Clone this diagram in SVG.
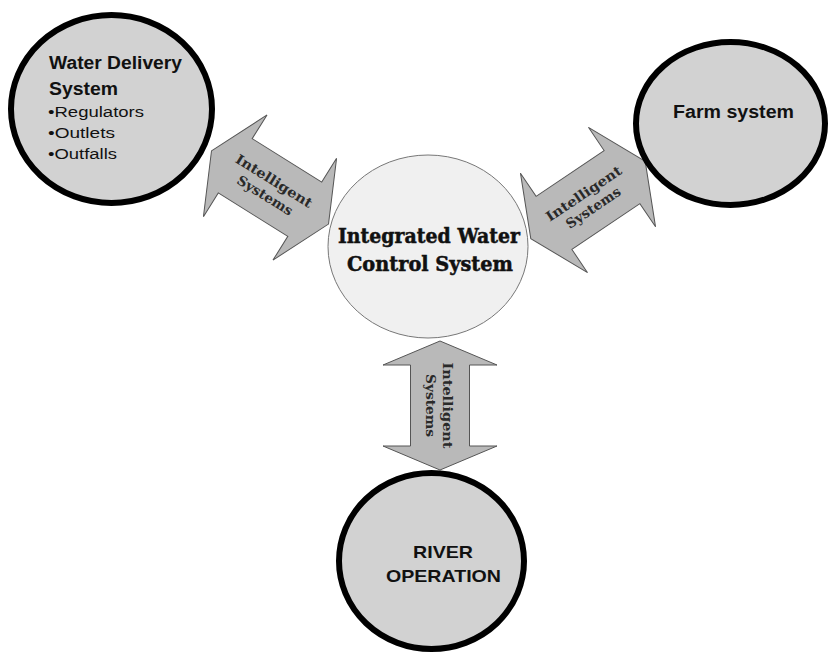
<svg xmlns="http://www.w3.org/2000/svg" width="830" height="658" viewBox="0 0 830 658">
  <defs>
    <style>
      .outer { fill: #d2d2d2; stroke: #000; stroke-width: 6; }
      .core { fill: #f0f0f0; stroke: #777; stroke-width: 1; }
      .link { fill: #b9b9b9; stroke: #555; stroke-width: 1; stroke-linejoin: miter; }
      .sans { font-family: "Liberation Sans", Arial, sans-serif; fill: #111; }
      .bold { font-weight: bold; }
      .slab { font-family: "DejaVu Serif", "Liberation Serif", serif; fill: #111; stroke: #111; stroke-width: 0.5; }
      .lbl { font-family: "DejaVu Serif", "Liberation Serif", serif; font-size: 13.5px; font-weight: bold; fill: #2a2a2a; text-anchor: middle; }
    </style>
    <!-- double-headed arrow, centred on the origin along the x axis -->
    <polygon id="dbl" points="-69,0 -41,-60 -41,-32 41,-32 41,-60 69,0 41,60 41,32 -41,32 -41,60"/>
    <polygon id="dblv" points="0,-64.5 57,-40.5 29.5,-40.5 29.5,40.5 57,40.5 0,64.5 -57,40.5 -29.5,40.5 -29.5,-40.5 -57,-40.5"/>
  </defs>

  <rect width="830" height="658" fill="#fff"/>

  <!-- connectors -->
  <g id="connectors">
    <g id="link-delivery" transform="translate(270,187.5) rotate(32)">
      <use href="#dbl" class="link"/>
      <text class="lbl" x="0" y="-3" textLength="88" lengthAdjust="spacingAndGlyphs">Intelligent</text>
      <text class="lbl" x="0" y="14" textLength="63" lengthAdjust="spacingAndGlyphs">Systems</text>
    </g>
    <g id="link-farm" transform="translate(588,200) rotate(-34)">
      <use href="#dbl" class="link"/>
      <text class="lbl" x="0" y="-3" textLength="88" lengthAdjust="spacingAndGlyphs">Intelligent</text>
      <text class="lbl" x="0" y="14" textLength="63" lengthAdjust="spacingAndGlyphs">Systems</text>
    </g>
    <g id="link-river" transform="translate(440,405.5)">
      <use href="#dblv" class="link"/>
      <g transform="rotate(90)">
        <text class="lbl" x="0" y="-3" textLength="86" lengthAdjust="spacingAndGlyphs">Intelligent</text>
        <text class="lbl" x="0" y="14" textLength="63" lengthAdjust="spacingAndGlyphs">Systems</text>
      </g>
    </g>
  </g>

  <!-- central node -->
  <g id="integrated-control">
    <ellipse class="core" cx="428" cy="246.5" rx="100" ry="91.5"/>
    <text class="slab bold" x="429" y="243" font-size="20" text-anchor="middle" textLength="182" lengthAdjust="spacingAndGlyphs">Integrated Water</text>
    <text class="slab bold" x="430" y="271" font-size="20" text-anchor="middle" textLength="166" lengthAdjust="spacingAndGlyphs">Control System</text>
  </g>

  <!-- water delivery node -->
  <g id="water-delivery">
    <ellipse class="outer" cx="111.5" cy="109" rx="100.5" ry="94"/>
    <text class="sans bold" x="49" y="69" font-size="17.5" textLength="133" lengthAdjust="spacingAndGlyphs">Water Delivery</text>
    <text class="sans bold" x="49" y="95" font-size="17.5" textLength="69" lengthAdjust="spacingAndGlyphs">System</text>
    <text class="sans" x="48" y="117" font-size="15.5" textLength="96" lengthAdjust="spacingAndGlyphs">•Regulators</text>
    <text class="sans" x="48" y="138" font-size="15.5" textLength="67" lengthAdjust="spacingAndGlyphs">•Outlets</text>
    <text class="sans" x="48" y="159" font-size="15.5" textLength="69" lengthAdjust="spacingAndGlyphs">•Outfalls</text>
  </g>

  <!-- farm node -->
  <g id="farm-system">
    <ellipse class="outer" cx="730.5" cy="123.5" rx="94.5" ry="81.5"/>
    <text class="sans bold" x="733.5" y="118" font-size="17.5" text-anchor="middle" textLength="121" lengthAdjust="spacingAndGlyphs">Farm system</text>
  </g>

  <!-- river node -->
  <g id="river-operation">
    <ellipse class="outer" cx="431.5" cy="561" rx="92.5" ry="88"/>
    <text class="sans bold" x="443" y="558" font-size="17" text-anchor="middle" textLength="60" lengthAdjust="spacingAndGlyphs">RIVER</text>
    <text class="sans bold" x="443.5" y="582" font-size="17" text-anchor="middle" textLength="115" lengthAdjust="spacingAndGlyphs">OPERATION</text>
  </g>
</svg>
